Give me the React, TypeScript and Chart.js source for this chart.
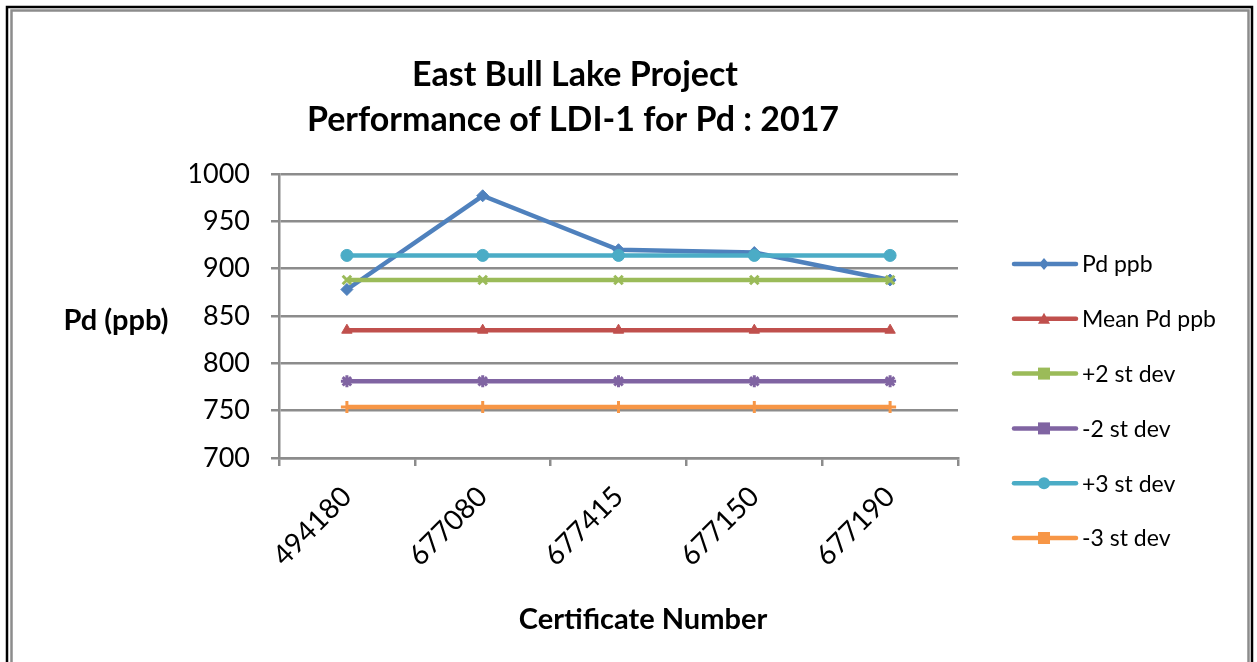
import React, { useEffect, useRef } from "react";
import { Chart, registerables } from "chart.js";

Chart.register(...registerables);

const categories = ["494180", "677080", "677415", "677150", "677190"];
const pdPpb = [878, 977, 920, 917, 888];
const meanPd = [835, 835, 835, 835, 835];
const plus2 = [888, 888, 888, 888, 888];
const minus2 = [781, 781, 781, 781, 781];
const plus3 = [914, 914, 914, 914, 914];
const minus3 = [754, 754, 754, 754, 754];

const seriesNames = ["Pd ppb", "Mean Pd ppb", "+2 st dev", "-2 st dev", "+3 st dev", "-3 st dev"];
const seriesColors = ["#4F81BD", "#C0504D", "#9BBB59", "#8064A2", "#4BACC6", "#F79646"];
const plotPoints = ["rectRot", "triangle", "crossRot", "star", "circle", "cross"];

const FONT = "Lato, 'Open Sans', sans-serif";

const decorPlugin = {
  id: "decor",
  beforeDraw(chart: any) {
    const ctx = chart.ctx;
    ctx.save();
    ctx.fillStyle = "#ffffff";
    ctx.fillRect(0, 0, chart.width, chart.height);
    // frame
    ctx.strokeStyle = "#000000";
    ctx.lineWidth = 2.5;
    ctx.strokeRect(7, 7, 1245, 700);
    ctx.strokeStyle = "#8c8c8c";
    ctx.lineWidth = 2.5;
    ctx.strokeRect(11.5, 10.5, 1237, 700);
    ctx.restore();
  },
  afterDraw(chart: any) {
    const ctx = chart.ctx;
    ctx.save();
    ctx.fillStyle = "#000000";
    ctx.textAlign = "center";
    ctx.textBaseline = "middle";
    ctx.font = `bold 34px ${FONT}`;
    ctx.fillText("East Bull Lake Project", 575, 75);
    ctx.fillText("Performance of LDI-1 for Pd : 2017", 573, 120);
    ctx.font = `bold 29px ${FONT}`;
    ctx.fillText("Pd (ppb)", 116, 321);
    ctx.fillText("Certificate Number", 643, 620);
    // legend
    ctx.textAlign = "left";
    ctx.font = `23px ${FONT}`;
    const y0 = 264;
    const dy = 54.8;
    chart.data.datasets.forEach((ds: any, i: number) => {
      const y = y0 + i * dy;
      ctx.strokeStyle = seriesColors[i];
      ctx.lineWidth = 4.5;
      ctx.lineCap = "round";
      ctx.beginPath();
      ctx.moveTo(1014, y);
      ctx.lineTo(1076, y);
      ctx.stroke();
      ctx.fillStyle = seriesColors[i];
      ctx.beginPath();
      const cx = 1044;
      if (i === 0) {
        ctx.moveTo(cx, y - 6);
        ctx.lineTo(cx + 5, y);
        ctx.lineTo(cx, y + 6);
        ctx.lineTo(cx - 5, y);
        ctx.closePath();
      } else if (i === 1) {
        ctx.moveTo(cx, y - 6);
        ctx.lineTo(cx + 6, y + 5);
        ctx.lineTo(cx - 6, y + 5);
        ctx.closePath();
      } else if (i === 4) {
        ctx.arc(cx, y, 6, 0, Math.PI * 2);
      } else {
        ctx.rect(cx - 6, y - 6, 12, 12);
      }
      ctx.fill();
      ctx.fillStyle = "#000000";
      ctx.fillText(seriesNames[i], 1082, y + 1);
    });
    ctx.restore();
  },
};

export default function App() {
  const canvasRef = useRef<HTMLCanvasElement | null>(null);

  useEffect(() => {
    document.body.style.margin = "0";
    const allData = [pdPpb, meanPd, plus2, minus2, plus3, minus3];
    const order = [5, 3, 1, 2, 4, 0];
    const chart = new Chart(canvasRef.current as HTMLCanvasElement, {
      type: "line",
      data: {
        labels: categories,
        datasets: allData.map((d, i) => ({
          label: seriesNames[i],
          data: d,
          borderColor: seriesColors[i],
          backgroundColor: seriesColors[i],
          borderWidth: 4.5,
          pointStyle: plotPoints[i] as any,
          pointRadius: 6,
          pointBorderColor: seriesColors[i],
          pointBackgroundColor: seriesColors[i],
          pointBorderWidth: i === 2 || i === 3 || i === 5 ? 3 : 1,
          tension: 0,
          order: order[i],
        })),
      },
      options: {
        responsive: false,
        animation: false,
        layout: { padding: { left: 190, top: 174, right: 299, bottom: 0 } },
        plugins: {
          legend: { display: false },
          title: { display: false },
          tooltip: { enabled: false },
        },
        scales: {
          x: {
            offset: true,
            grid: {
              display: true,
              drawOnChartArea: false,
              drawTicks: true,
              tickLength: 8,
              color: "#8c8c8c",
              lineWidth: 2.5,
              offset: true,
            },
            border: { display: true, color: "#8c8c8c", width: 2.5 },
            ticks: {
              color: "#000000",
              font: { family: FONT, size: 28 },
              maxRotation: 45,
              minRotation: 45,
              padding: 14,
            },
            afterFit(scale: any) {
              scale.height = 204;
            },
          },
          y: {
            min: 700,
            max: 1000,
            ticks: {
              stepSize: 50,
              color: "#000000",
              font: { family: FONT, size: 27 },
              padding: 21,
              callback: (v: any) => String(v),
            },
            grid: {
              color: "#8c8c8c",
              lineWidth: 2.5,
              drawTicks: true,
              tickLength: 8,
            },
            border: { display: true, color: "#8c8c8c", width: 2.5 },
            afterFit(scale: any) {
              scale.width = 89;
            },
          },
        },
      },
      plugins: [decorPlugin],
    });
    return () => chart.destroy();
  }, []);

  return (
    <div style={{ position: "absolute", left: 0, top: 0, width: 1257, height: 662 }}>
      <canvas ref={canvasRef} width={1257} height={662} style={{ display: "block" }} />
    </div>
  );
}
